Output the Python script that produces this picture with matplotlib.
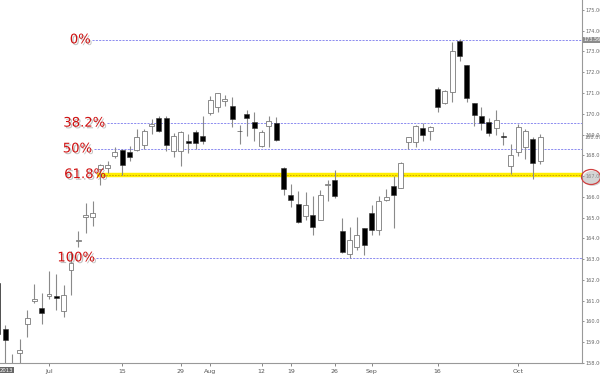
import matplotlib
matplotlib.use('Agg')
import matplotlib.pyplot as plt
import numpy as np
import pandas as pd
from matplotlib.patches import Ellipse
import matplotlib.patheffects as pe

# ---------------- data ----------------
dates = pd.bdate_range('2013-06-20', '2013-10-04', freq='C',
                       holidays=['2013-07-04', '2013-09-02'])

opens = [161.87, 159.62, 157.40, 158.48, 159.86, 161.00, 160.63,
         161.25, 161.25, 160.48, 162.49, 163.87, 165.02, 165.02, 167.34, 167.41, 167.98,
         168.27, 168.17, 168.27, 168.51, 169.41, 169.79, 169.79, 168.22, 168.22, 168.70,
         169.13, 168.94, 170.03, 170.32, 170.61, 170.37, 169.17, 169.99, 169.60, 168.46,
         169.41, 169.56, 167.41, 166.07, 165.64, 165.07, 165.11, 164.88, 166.55, 166.79,
         164.35, 163.25, 163.59, 164.49, 165.21, 164.40, 165.83, 166.50, 166.45, 168.65,
         168.65, 169.32, 169.17, 171.18, 170.51, 171.04, 173.52, 172.33, 170.51, 169.89,
         169.60, 169.32, 168.91, 167.50, 168.17, 168.41, 168.79, 167.74]
highs = [162.00, 159.81, 158.43, 159.15, 160.53, 161.82, 161.39,
         162.44, 162.30, 161.77, 163.40, 164.35, 165.69, 165.78, 167.60, 167.73, 168.41,
         168.30, 168.46, 169.27, 169.27, 169.75, 169.89, 169.89, 169.08, 169.17, 169.03,
         169.22, 169.89, 170.85, 171.00, 170.89, 170.80, 169.46, 170.18, 170.08, 169.22,
         169.89, 169.84, 167.45, 166.64, 166.26, 166.21, 166.02, 166.31, 166.79, 167.31,
         164.97, 164.54, 165.02, 164.52, 165.59, 166.02, 166.40, 166.98, 167.69, 168.90,
         169.45, 169.56, 169.40, 171.28, 171.13, 173.47, 173.62, 172.35, 170.52, 170.32,
         169.79, 170.18, 169.13, 168.55, 169.51, 169.27, 168.89, 169.03]
lows = [159.20, 157.50, 155.80, 157.30, 159.24, 160.91, 159.86,
        161.06, 160.53, 160.20, 161.29, 163.59, 164.26, 164.59, 166.55, 167.15, 167.88,
        167.07, 167.74, 168.22, 168.31, 169.03, 169.13, 168.22, 167.93, 167.50, 168.12,
        168.31, 168.55, 169.94, 170.08, 170.37, 169.36, 168.55, 168.94, 168.70, 168.41,
        168.41, 168.70, 166.07, 165.50, 164.73, 164.88, 164.16, 164.88, 165.78, 165.93,
        163.30, 163.06, 163.44, 163.20, 164.16, 164.16, 165.78, 164.49, 166.45, 168.31,
        168.41, 168.70, 168.74, 170.08, 170.46, 170.56, 172.56, 170.56, 169.41, 169.22,
        168.94, 168.98, 168.51, 167.12, 167.98, 167.84, 166.88, 167.60]
closes = [159.40, 159.10, 157.10, 158.62, 160.15, 161.10, 160.39,
          161.34, 161.15, 161.29, 162.82, 163.92, 165.11, 165.21, 167.55, 167.55, 168.17,
          167.55, 167.93, 168.89, 169.17, 169.51, 169.17, 168.51, 168.94, 169.13, 168.60,
          168.60, 168.70, 170.65, 170.99, 170.70, 169.75, 169.15, 169.79, 169.32, 169.13,
          169.65, 168.74, 166.40, 165.83, 164.78, 165.59, 164.54, 166.07, 166.64, 166.02,
          163.35, 163.92, 164.16, 163.68, 164.40, 165.78, 165.97, 166.07, 167.65, 168.89,
          169.41, 168.98, 169.36, 170.32, 171.08, 173.04, 172.76, 170.75, 169.94, 169.56,
          169.08, 169.70, 168.89, 168.03, 169.36, 169.17, 167.65, 168.89]

fib_high = 173.56
fib_low = 163.06
fib_pcts = [0.0, 0.382, 0.5, 0.618, 1.0]
fib_labels = ['0%', '38.2%', '50%', '61.8%', '100%']

tick_names = ['Jul', '15', '29', 'Aug', '12', '19', '26', 'Sep', '16', 'Oct']
tick_pos = [7, 17, 25, 29, 36, 40, 46, 51, 60, 71]

y_ticks = list(range(158, 176))

# ---------------- figure ----------------
W, H = 600, 376
fig = plt.figure(figsize=(6.0, 3.76), dpi=100)
ax = fig.add_axes([0, 1 - 363 / H, 582 / W, 363 / H])

o = np.array(opens); h = np.array(highs); l = np.array(lows); c = np.array(closes)
x = np.arange(len(dates))
up = c >= o

ax.vlines(x, l, h, color='#8a8a8a', lw=0.8, zorder=2)
bottoms = np.minimum(o, c)
heights = np.maximum(np.abs(c - o), 0.04)
ax.bar(x[up], heights[up], bottom=bottoms[up], width=0.68,
       facecolor='white', edgecolor='#7a7a7a', linewidth=0.6, zorder=3)
ax.bar(x[~up], heights[~up], bottom=bottoms[~up], width=0.68,
       facecolor='black', edgecolor='#333333', linewidth=0.4, zorder=3)

# Fibonacci levels
line_start = [5.9 + 7, 7.9 + 7, 6.1 + 7, 6.5 + 7, 6.4 + 7]
text_end = [5.7 + 7, 7.7 + 7, 5.9 + 7, 7.8 + 7, 6.3 + 7]
x_right = 7 + 72.71
shadow = [pe.withSimplePatchShadow(offset=(1.2, -1.2), shadow_rgbFace='#999999', alpha=0.6)]
for p, lab, xs, xe in zip(fib_pcts, fib_labels, line_start, text_end):
    lvl = fib_high - p * (fib_high - fib_low)
    if lab == '61.8%':
        ax.plot([xs, x_right], [lvl, lvl], color='#ffee00', lw=3.2, solid_capstyle='butt', zorder=1)
        ax.plot([xs, x_right], [lvl, lvl], color='#c8a000', lw=0.6, ls=(0, (2, 1.5)), zorder=1.5)
    else:
        ax.plot([xs, x_right], [lvl, lvl], color='#7878ee', lw=0.6, ls=(0, (2.5, 1.5)), zorder=1)
    ax.text(xe, lvl, lab, ha='right', va='center', color='#d01010', fontsize=9.5,
            fontfamily='DejaVu Sans', path_effects=shadow, zorder=5)

ax.set_xlim(7 - 6.685, x_right)
ax.set_ylim(158.143, 175.478)

for s in ['left', 'top']:
    ax.spines[s].set_visible(False)
ax.spines['right'].set_color('#999999')
ax.spines['bottom'].set_color('#999999')
ax.spines['right'].set_linewidth(0.8)
ax.spines['bottom'].set_linewidth(0.8)

ax.yaxis.tick_right()
ax.set_yticks(y_ticks)
ax.set_yticklabels([f'{v:.2f}' for v in y_ticks])
ax.tick_params(axis='y', labelsize=3.6, colors='#666666', length=1.5, width=0.5, pad=0.8)
ax.set_xticks(tick_pos)
ax.set_xticklabels(tick_names)
ax.tick_params(axis='x', labelsize=4.5, colors='#555555', length=2.5, width=0.5, pad=1.5)

# price labels on the axis
ax.text(1.002, fib_high, f'{fib_high:.2f}', transform=ax.get_yaxis_transform(),
        ha='left', va='center', fontsize=3.6, color='white',
        bbox=dict(boxstyle='square,pad=0.12', fc='#8c8c8c', ec='none'), zorder=6)
ax.text(1.005, closes[-1] - 0.05, f'{closes[-1]:.2f}', transform=ax.get_yaxis_transform(),
        ha='left', va='center', fontsize=3.6, color='#777777', zorder=6)

# hand-drawn circle around 167.00
ell = Ellipse((591 / W, 1 - 177 / H), 19 / W, 15 / H, transform=fig.transFigure,
              fill=False, edgecolor='#d04040', lw=0.9,
              path_effects=[pe.withSimplePatchShadow(offset=(1, -1), shadow_rgbFace='#aaaaaa', alpha=0.5)])
fig.add_artist(ell)

# year label
fig.text(0.0, 1 - 370 / H, '2013', ha='left', va='center', fontsize=3.8, color='white',
         bbox=dict(boxstyle='square,pad=0.1', fc='#666666', ec='none'))

fig.savefig('out.png', dpi=100, facecolor='white')
